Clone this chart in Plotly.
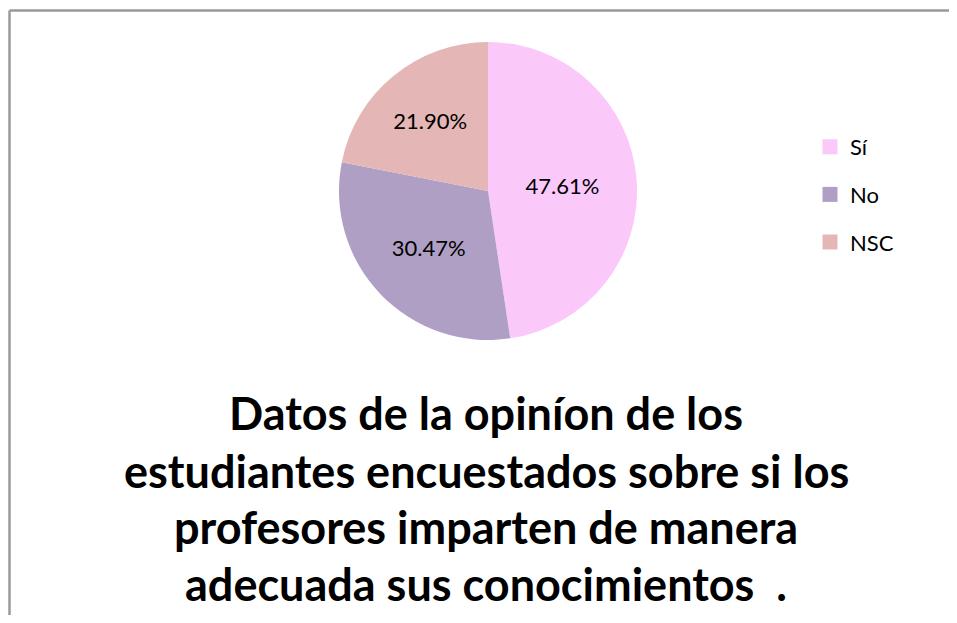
import plotly.graph_objects as go

# datos de la encuesta
categorias = ["Sí", "No", "NSC"]
porcentajes = [47.61, 30.47, 21.90]
colores = ["#FBC8FA", "#B09FC4", "#E4B6B5"]

titulo_lineas = [
    "Datos de la opiníon de los",
    "estudiantes encuestados sobre si los",
    "profesores imparten de manera",
    "adecuada sus conocimientos  .",
]

# la página deja 8px de margen alrededor de la figura
W, H = 941, 607
FUENTE = "Lato, 'Open Sans', sans-serif"

fig = go.Figure()

fig.add_trace(go.Pie(
    labels=categorias,
    values=porcentajes,
    sort=False,
    direction="clockwise",
    rotation=0,
    marker=dict(colors=colores, line=dict(width=0)),
    texttemplate="%{value:.2f}%",
    textposition="inside",
    insidetextorientation="horizontal",
    textfont=dict(family=FUENTE, size=22, color="#000000"),
    domain=dict(x=[(480 - 150) / W, (480 + 150) / W], y=[1 - 332 / H, 1 - 34 / H]),
    hoverinfo="label+value",
    showlegend=False,
))

# leyenda con cuadros, un grupo por categoría para separar las entradas
for cat, col in zip(categorias, colores):
    fig.add_trace(go.Scatter(
        x=[None], y=[None], mode="markers", name=cat, legendgroup=cat,
        marker=dict(symbol="square", size=15, color=col),
    ))

# título en cuatro líneas, centrado bajo la torta
ys = [405, 463, 519, 576]
for txt, yp in zip(titulo_lineas, ys):
    fig.add_annotation(
        text=f"<b>{txt}</b>", x=478 / W, y=1 - yp / H, xref="paper", yref="paper",
        xanchor="center", yanchor="middle", showarrow=False,
        font=dict(family=FUENTE, size=45, color="#000000"),
    )

# marco del gráfico (solo se ven el borde superior y el izquierdo)
BORDE = dict(color="#9a9a9a", width=2.5)
fig.add_shape(type="line", xref="paper", yref="paper",
              x0=1.5 / W, x1=1, y0=1 - 2.5 / H, y1=1 - 2.5 / H, line=BORDE)
fig.add_shape(type="line", xref="paper", yref="paper",
              x0=1.5 / W, x1=1.5 / W, y0=0, y1=1 - 2.5 / H, line=BORDE)

fig.update_layout(
    width=W, height=H,
    margin=dict(t=0, b=0, l=0, r=0),
    paper_bgcolor="white",
    plot_bgcolor="white",
    font=dict(family=FUENTE, color="#000000"),
    xaxis=dict(visible=False),
    yaxis=dict(visible=False),
    showlegend=True,
    legend=dict(x=802 / W, y=1 - 118 / H, xanchor="left", yanchor="top",
                font=dict(family=FUENTE, size=22, color="#000000"),
                itemwidth=30, tracegroupgap=16, bgcolor="rgba(0,0,0,0)"),
)

fig.write_html("out.html")
